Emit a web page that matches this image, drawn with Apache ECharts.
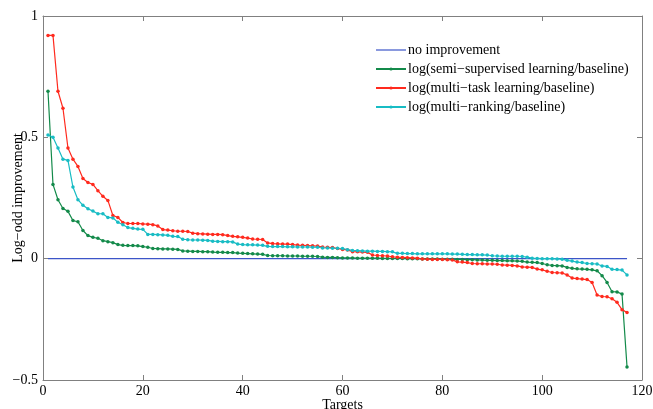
<!DOCTYPE html>
<html>
<head>
<meta charset="utf-8">
<script src="https://cdn.jsdelivr.net/npm/echarts@6/dist/echarts.min.js"></script>
<style>html,body{margin:0;padding:0;background:#fff}#c{width:653px;height:409px}</style>
</head>
<body>
<div id="c"></div>
<script>
const seriesNames = [
  'no improvement',
  'log(semi\u2212supervised learning/baseline)',
  'log(multi\u2212task learning/baseline)',
  'log(multi\u2212ranking/baseline)'
];
const xTicks = [0, 20, 40, 60, 80, 100, 120];
const yTicks = [-0.5, 0, 0.5, 1];
const baselineX = [1, 117];
const baselineY = [0, 0];

const semiSupervised = [
  0.69, 0.306, 0.243, 0.207, 0.195, 0.157, 0.152, 0.116, 0.095, 0.088,
  0.084, 0.074, 0.070, 0.066, 0.058, 0.055, 0.054, 0.054, 0.053, 0.050,
  0.047, 0.042, 0.041, 0.040, 0.040, 0.039, 0.038, 0.032, 0.031, 0.030,
  0.030, 0.029, 0.029, 0.027, 0.026, 0.026, 0.025, 0.025, 0.023, 0.022,
  0.021, 0.020, 0.019, 0.018, 0.013, 0.012, 0.012, 0.012, 0.011, 0.011,
  0.011, 0.010, 0.010, 0.010, 0.009, 0.006, 0.005, 0.005, 0.004, 0.003,
  0.003, 0.003, 0.002, 0.002, 0.002, 0.002, 0.002, 0.001, 0.001, 0.001,
  0.001, 0.001, 0.000, 0.000, 0.000, -0.001, -0.001, -0.001, -0.001, -0.002,
  -0.002, -0.002, -0.003, -0.003, -0.004, -0.004, -0.005, -0.006, -0.007, -0.007,
  -0.008, -0.008, -0.009, -0.009, -0.010, -0.011, -0.014, -0.015, -0.016, -0.020,
  -0.025, -0.028, -0.029, -0.030, -0.036, -0.040, -0.042, -0.043, -0.044, -0.046,
  -0.050, -0.070, -0.098, -0.136, -0.137, -0.146, -0.446
];
const multiTask = [
  0.92, 0.92, 0.69, 0.62, 0.456, 0.41, 0.38, 0.33, 0.314, 0.306,
  0.28, 0.257, 0.24, 0.178, 0.17, 0.149, 0.145, 0.145, 0.145, 0.143,
  0.142, 0.14, 0.135, 0.12, 0.118, 0.115, 0.113, 0.113, 0.112, 0.105,
  0.103, 0.102, 0.101, 0.100, 0.100, 0.099, 0.095, 0.092, 0.090, 0.088,
  0.085, 0.081, 0.080, 0.079, 0.065, 0.062, 0.061, 0.060, 0.060, 0.058,
  0.056, 0.055, 0.054, 0.053, 0.052, 0.048, 0.047, 0.046, 0.042, 0.038,
  0.036, 0.029, 0.028, 0.027, 0.026, 0.015, 0.013, 0.012, 0.011, 0.008,
  0.006, 0.005, 0.004, 0.003, 0.002, -0.001, -0.002, -0.003, -0.003, -0.003,
  -0.004, -0.005, -0.013, -0.014, -0.016, -0.020, -0.021, -0.021, -0.022, -0.022,
  -0.023, -0.026, -0.027, -0.028, -0.030, -0.034, -0.035, -0.036, -0.043, -0.046,
  -0.052, -0.057, -0.058, -0.059, -0.067, -0.080, -0.082, -0.084, -0.086, -0.098,
  -0.150, -0.156, -0.157, -0.165, -0.180, -0.210, -0.222
];
const multiRanking = [
  0.51, 0.50, 0.456, 0.41, 0.405, 0.295, 0.243, 0.22, 0.206, 0.196,
  0.185, 0.185, 0.17, 0.168, 0.15, 0.14, 0.128, 0.125, 0.122, 0.121,
  0.100, 0.100, 0.099, 0.098, 0.096, 0.092, 0.091, 0.080, 0.078, 0.077,
  0.077, 0.076, 0.075, 0.072, 0.071, 0.070, 0.070, 0.069, 0.060, 0.058,
  0.057, 0.057, 0.056, 0.055, 0.051, 0.050, 0.050, 0.050, 0.049, 0.049,
  0.048, 0.048, 0.048, 0.047, 0.047, 0.044, 0.044, 0.043, 0.043, 0.042,
  0.037, 0.034, 0.033, 0.032, 0.031, 0.031, 0.030, 0.030, 0.029, 0.028,
  0.022, 0.022, 0.021, 0.021, 0.020, 0.020, 0.020, 0.020, 0.020, 0.020,
  0.020, 0.019, 0.019, 0.018, 0.017, 0.017, 0.016, 0.016, 0.015, 0.012,
  0.011, 0.010, 0.010, 0.010, 0.010, 0.009, 0.006, 0.002, 0.001, 0.000,
  0.000, 0.000, -0.001, -0.002, -0.007, -0.010, -0.014, -0.016, -0.020, -0.021,
  -0.022, -0.030, -0.032, -0.044, -0.045, -0.047, -0.067
];

const toXY = arr => arr.map((v, i) => [i + 1, v]);
const font = 'Liberation Serif, Times New Roman, serif';
const axisGray = '#808080';

const chart = echarts.init(document.getElementById('c'), null, {renderer: 'canvas'});

const mkX = (pos, showLabel) => ({
  type: 'value', position: pos, min: xTicks[0], max: xTicks[xTicks.length - 1], interval: 20,
  axisLine: {show: true, onZero: false, lineStyle: {color: axisGray, width: 1}},
  axisTick: {show: true, inside: true, length: 5, lineStyle: {color: axisGray}},
  axisLabel: {show: showLabel, color: '#000', fontFamily: font, fontSize: 14, margin: 4},
  splitLine: {show: false},
  name: showLabel ? 'Targets' : '', nameLocation: 'middle', nameGap: 18, nameMoveOverlap: false,
  nameTextStyle: {color: '#000', fontFamily: font, fontSize: 14}
});
const mkY = (pos, showLabel) => ({
  type: 'value', position: pos, min: yTicks[0], max: yTicks[yTicks.length - 1], interval: 0.5,
  axisLine: {show: true, onZero: false, lineStyle: {color: axisGray, width: 1}},
  axisTick: {show: true, inside: true, length: 5, lineStyle: {color: axisGray}},
  axisLabel: {show: showLabel, color: '#000', fontFamily: font, fontSize: 14, margin: 5,
    formatter: v => (v < 0 ? '\u2212' + Math.abs(v) : String(v))},
  splitLine: {show: false},
  name: showLabel ? 'Log\u2212odd improvement' : '', nameLocation: 'middle', nameGap: 18, nameMoveOverlap: false,
  nameTextStyle: {color: '#000', fontFamily: font, fontSize: 14}
});

const lineSeries = (name, data, color) => ({
  name, type: 'line', data: toXY(data), xAxisIndex: 0, yAxisIndex: 0,
  symbol: 'circle', symbolSize: 3.5, showSymbol: true,
  lineStyle: {color, width: 1.2}, itemStyle: {color},
  animation: false
});

chart.setOption({
  animation: false,
  grid: {left: 43, right: 11, top: 16, bottom: 29, containLabel: false, outerBoundsMode: 'none'},
  xAxis: [mkX('bottom', true), mkX('top', false)],
  yAxis: [mkY('left', true), mkY('right', false)],
  legend: {
    show: true, left: 370, top: 38, orient: 'vertical', itemWidth: 30, itemHeight: 4, itemGap: 5,
    textStyle: {color: '#000', fontFamily: font, fontSize: 14, padding: [0, 0, 0, -3]},
    data: [
      {name: seriesNames[0], icon: 'path://M0,0L100,0L100,4L0,4Z', itemStyle: {color: '#3c55c8'}},
      seriesNames[1], seriesNames[2], seriesNames[3]
    ]
  },
  series: [
    {
      name: seriesNames[0], type: 'line', data: baselineX.map((x, i) => [x, baselineY[i]]),
      showSymbol: false, symbol: 'none', lineStyle: {color: '#3c55c8', width: 1.2}, itemStyle: {color: '#3c55c8'}
    },
    lineSeries(seriesNames[1], semiSupervised, '#138a4a'),
    lineSeries(seriesNames[2], multiTask, '#ff2a1e'),
    lineSeries(seriesNames[3], multiRanking, '#18bcc4')
  ]
});
</script>
</body>
</html>
